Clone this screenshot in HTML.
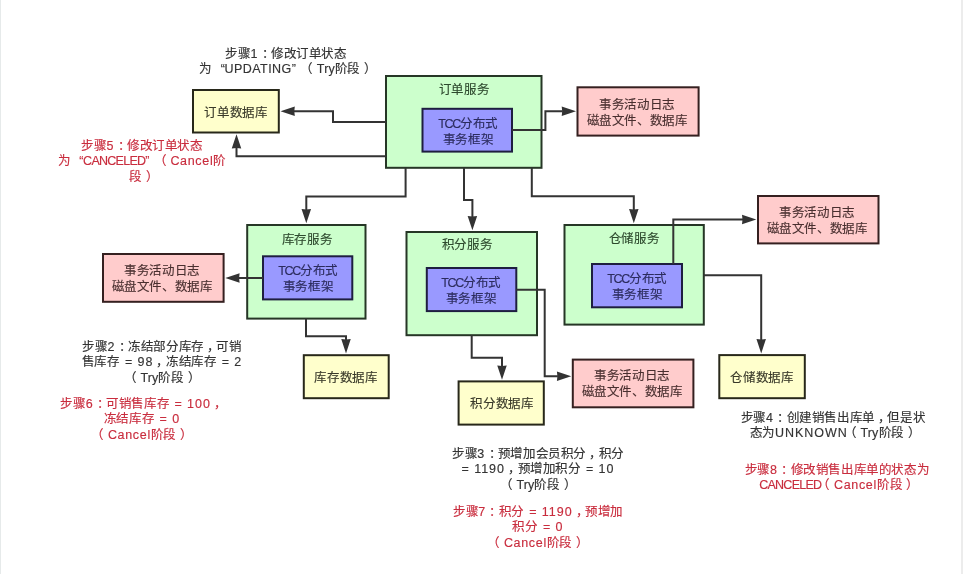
<!DOCTYPE html>
<html lang="zh-CN"><head><meta charset="utf-8">
<style>
html,body{margin:0;padding:0;background:#fff;}
body{width:963px;height:574px;position:relative;overflow:hidden;font-family:"Liberation Sans",sans-serif;}
.edgeL{position:absolute;left:0;top:0;width:1px;height:574px;background:#e6eaea;}
.edgeR{position:absolute;right:0;top:0;width:2px;height:574px;background:#ececec;}
svg{position:absolute;left:0;top:0;}
.t{position:absolute;width:240px;text-align:center;font-size:12.50px;line-height:15.40px;white-space:nowrap;text-spacing-trim:space-all;letter-spacing:-.4px;will-change:transform;-webkit-text-stroke:.15px currentColor}
.a{letter-spacing:0;word-spacing:1.8px}
.pc{position:relative;left:.27em}.pm{position:relative;left:.23em}.po{position:relative;left:-.31em}.pp{position:relative;left:.33em}
.d{letter-spacing:1px}.u{letter-spacing:.3px}
.ql{display:inline-block;width:1em;text-align:right}.qr{display:inline-block;width:1em;text-align:left}
#w{position:absolute;left:0;top:0;width:963px;height:574px;filter:blur(0.40px)}
</style></head><body>
<div id="w">
<div class="edgeL"></div><div class="edgeR"></div>
<svg width="963" height="574" viewBox="0 0 963 574">
<rect x="193.00" y="90.00" width="85.80" height="42.50" fill="#ffffcc" stroke="#28281a" stroke-width="2"/>
<rect x="386.00" y="76.00" width="155.50" height="91.80" fill="#ccffcc" stroke="#263626" stroke-width="2"/>
<rect x="422.50" y="108.80" width="89.50" height="42.80" fill="#9999ff" stroke="#1e1e40" stroke-width="2"/>
<rect x="577.50" y="87.30" width="121.10" height="48.30" fill="#ffcccc" stroke="#352020" stroke-width="2"/>
<rect x="247.20" y="225.00" width="118.30" height="93.60" fill="#ccffcc" stroke="#263626" stroke-width="2"/>
<rect x="263.00" y="256.30" width="89.30" height="43.10" fill="#9999ff" stroke="#1e1e40" stroke-width="2"/>
<rect x="103.00" y="254.00" width="120.60" height="47.80" fill="#ffcccc" stroke="#352020" stroke-width="2"/>
<rect x="406.50" y="232.00" width="130.50" height="103.20" fill="#ccffcc" stroke="#263626" stroke-width="2"/>
<rect x="426.80" y="268.00" width="89.50" height="43.10" fill="#9999ff" stroke="#1e1e40" stroke-width="2"/>
<rect x="564.50" y="225.00" width="139.30" height="99.60" fill="#ccffcc" stroke="#263626" stroke-width="2"/>
<rect x="592.00" y="264.00" width="90.00" height="43.30" fill="#9999ff" stroke="#1e1e40" stroke-width="2"/>
<rect x="758.00" y="196.00" width="120.50" height="47.40" fill="#ffcccc" stroke="#352020" stroke-width="2"/>
<rect x="303.80" y="355.20" width="84.90" height="43.00" fill="#ffffcc" stroke="#28281a" stroke-width="2"/>
<rect x="458.60" y="381.40" width="85.20" height="43.20" fill="#ffffcc" stroke="#28281a" stroke-width="2"/>
<rect x="572.80" y="359.60" width="120.60" height="47.70" fill="#ffcccc" stroke="#352020" stroke-width="2"/>
<rect x="719.30" y="355.10" width="85.50" height="43.10" fill="#ffffcc" stroke="#28281a" stroke-width="2"/>
<polyline points="385.00,122.00 333.00,122.00 333.00,111.30 294.80,111.30" fill="none" stroke="#333333" stroke-width="2" stroke-linejoin="miter" stroke-linecap="square"/>
<polygon points="280.50,111.30 294.80,106.55 294.30,111.30 294.80,116.05" fill="#333333"/>
<polyline points="385.00,156.30 236.50,156.30 236.50,148.60" fill="none" stroke="#333333" stroke-width="2" stroke-linejoin="miter" stroke-linecap="square"/>
<polygon points="236.50,134.30 241.25,148.60 236.50,148.10 231.75,148.60" fill="#333333"/>
<polyline points="513.00,130.00 545.40,130.00 545.40,111.20 561.70,111.20" fill="none" stroke="#333333" stroke-width="2" stroke-linejoin="miter" stroke-linecap="square"/>
<polygon points="576.00,111.20 561.70,115.95 562.20,111.20 561.70,106.45" fill="#333333"/>
<polyline points="405.60,168.80 405.60,196.50 306.30,196.50 306.30,208.90" fill="none" stroke="#333333" stroke-width="2" stroke-linejoin="miter" stroke-linecap="square"/>
<polygon points="306.30,223.20 301.55,208.90 306.30,209.40 311.05,208.90" fill="#333333"/>
<polyline points="464.00,168.80 464.00,200.00 472.40,200.00 472.40,216.00" fill="none" stroke="#333333" stroke-width="2" stroke-linejoin="miter" stroke-linecap="square"/>
<polygon points="472.40,230.30 467.65,216.00 472.40,216.50 477.15,216.00" fill="#333333"/>
<polyline points="531.80,168.80 531.80,196.30 633.80,196.30 633.80,209.00" fill="none" stroke="#333333" stroke-width="2" stroke-linejoin="miter" stroke-linecap="square"/>
<polygon points="633.80,223.30 629.05,209.00 633.80,209.50 638.55,209.00" fill="#333333"/>
<polyline points="262.00,278.00 239.60,278.00" fill="none" stroke="#333333" stroke-width="2" stroke-linejoin="miter" stroke-linecap="square"/>
<polygon points="225.30,278.00 239.60,273.25 239.10,278.00 239.60,282.75" fill="#333333"/>
<polyline points="306.00,319.60 306.00,336.20 346.00,336.20 346.00,339.10" fill="none" stroke="#333333" stroke-width="2" stroke-linejoin="miter" stroke-linecap="square"/>
<polygon points="346.00,353.40 341.25,339.10 346.00,339.60 350.75,339.10" fill="#333333"/>
<polyline points="517.30,289.80 544.70,289.80 544.70,376.30 556.90,376.30" fill="none" stroke="#333333" stroke-width="2" stroke-linejoin="miter" stroke-linecap="square"/>
<polygon points="571.20,376.30 556.90,381.05 557.40,376.30 556.90,371.55" fill="#333333"/>
<polyline points="471.70,336.00 471.70,357.70 502.00,357.70 502.00,365.40" fill="none" stroke="#333333" stroke-width="2" stroke-linejoin="miter" stroke-linecap="square"/>
<polygon points="502.00,379.70 497.25,365.40 502.00,365.90 506.75,365.40" fill="#333333"/>
<polyline points="673.30,263.00 673.30,219.50 742.00,219.50" fill="none" stroke="#333333" stroke-width="2" stroke-linejoin="miter" stroke-linecap="square"/>
<polygon points="756.30,219.50 742.00,224.25 742.50,219.50 742.00,214.75" fill="#333333"/>
<polyline points="704.50,275.20 761.20,275.20 761.20,339.10" fill="none" stroke="#333333" stroke-width="2" stroke-linejoin="miter" stroke-linecap="square"/>
<polygon points="761.20,353.40 756.45,339.10 761.20,339.60 765.95,339.10" fill="#333333"/>
</svg>
<div class="t" style="left:166.0px;top:46.80px;color:#333333;line-height:15.4px">步骤<span class="a"><span class="d">1</span></span><span class="pc">：</span>修改订单状态<br>为<span class="ql">“</span><span class="a"><span style="letter-spacing:0.46px">UPDATING</span></span><span class="qr">”</span><span class="po">（</span><span class="a"><span style="letter-spacing:0.15px">Try</span></span>阶段<span class="pp">）</span></div>
<div class="t" style="left:21.5px;top:139.40px;color:#c92d3e;line-height:15.4px">步骤<span class="a"><span class="d">5</span></span><span class="pc">：</span>修改订单状态<br>为<span class="ql">“</span><span class="a"><span style="letter-spacing:-0.74px">CANCELED</span></span><span class="qr">”</span><span class="po">（</span><span class="a"><span style="letter-spacing:0.68px">Cancel</span></span>阶<br>段<span class="pp">）</span></div>
<div class="t" style="left:42.0px;top:339.80px;color:#333333;line-height:15.4px">步骤<span class="a"><span class="d">2</span></span><span class="pc">：</span>冻结部分库存<span class="pm">，</span>可销<br>售库存<span class="a"> = <span class="d">98</span></span><span class="pm">，</span>冻结库存<span class="a"> = <span class="d">2</span></span><br><span class="po">（</span><span class="a"><span style="letter-spacing:0.15px">Try</span></span>阶段<span class="pp">）</span></div>
<div class="t" style="left:22.0px;top:397.30px;color:#c92d3e;line-height:15.4px">步骤<span class="a"><span class="d">6</span></span><span class="pc">：</span>可销售库存<span class="a"> = <span class="d">100</span></span><span class="pm">，</span><br>冻结库存<span class="a"> = <span class="d">0</span></span><br><span class="po">（</span><span class="a"><span style="letter-spacing:0.68px">Cancel</span></span>阶段<span class="pp">）</span></div>
<div class="t" style="left:417.5px;top:446.50px;color:#333333;line-height:15.4px">步骤<span class="a"><span class="d">3</span></span><span class="pc">：</span>预增加会员积分<span class="pm">，</span>积分<br><span class="a">= <span class="d">1190</span></span><span class="pm">，</span>预增加积分<span class="a"> = <span class="d">10</span></span><br><span class="po">（</span><span class="a"><span style="letter-spacing:0.15px">Try</span></span>阶段<span class="pp">）</span></div>
<div class="t" style="left:417.5px;top:504.80px;color:#c92d3e;line-height:15.4px">步骤<span class="a"><span class="d">7</span></span><span class="pc">：</span>积分<span class="a"> = <span class="d">1190</span></span><span class="pm">，</span>预增加<br>积分<span class="a"> = <span class="d">0</span></span><br><span class="po">（</span><span class="a"><span style="letter-spacing:0.68px">Cancel</span></span>阶段<span class="pp">）</span></div>
<div class="t" style="left:713.0px;top:410.80px;color:#333333;line-height:15.4px">步骤<span class="a"><span class="d">4</span></span><span class="pc">：</span>创建销售出库单<span class="pm">，</span>但是状<br>态为<span class="a"><span style="letter-spacing:1.00px">UNKNOWN</span></span><span class="po">（</span><span class="a"><span style="letter-spacing:0.15px">Try</span></span>阶段<span class="pp">）</span></div>
<div class="t" style="left:716.5px;top:463.30px;color:#c92d3e;line-height:15.4px">步骤<span class="a"><span class="d">8</span></span><span class="pc">：</span>修改销售出库单的状态为<br><span class="a"><span style="letter-spacing:-0.74px">CANCELED</span></span><span class="po">（</span><span class="a"><span style="letter-spacing:0.68px">Cancel</span></span>阶段<span class="pp">）</span></div>
<div class="t" style="left:115.5px;top:105.60px;color:#3a3a2a;line-height:15.4px">订单数据库</div>
<div class="t" style="left:344.0px;top:83.00px;color:#2e4a2e;line-height:15.4px">订单服务</div>
<div class="t" style="left:347.5px;top:115.60px;color:#2c2c5e;line-height:16.0px"><span class="a"><span style="letter-spacing:-1.30px">TCC</span></span>分布式<br>事务框架</div>
<div class="t" style="left:516.8px;top:96.90px;color:#4a3030;line-height:16.0px">事务活动日志<br>磁盘文件、数据库</div>
<div class="t" style="left:186.5px;top:232.80px;color:#2e4a2e;line-height:15.4px">库存服务</div>
<div class="t" style="left:187.5px;top:263.10px;color:#2c2c5e;line-height:16.0px"><span class="a"><span style="letter-spacing:-1.30px">TCC</span></span>分布式<br>事务框架</div>
<div class="t" style="left:42.0px;top:262.80px;color:#4a3030;line-height:16.0px">事务活动日志<br>磁盘文件、数据库</div>
<div class="t" style="left:346.7px;top:238.30px;color:#2e4a2e;line-height:15.4px">积分服务</div>
<div class="t" style="left:350.8px;top:274.80px;color:#2c2c5e;line-height:16.0px"><span class="a"><span style="letter-spacing:-1.30px">TCC</span></span>分布式<br>事务框架</div>
<div class="t" style="left:514.0px;top:232.30px;color:#2e4a2e;line-height:15.4px">仓储服务</div>
<div class="t" style="left:517.0px;top:271.10px;color:#2c2c5e;line-height:16.0px"><span class="a"><span style="letter-spacing:-1.30px">TCC</span></span>分布式<br>事务框架</div>
<div class="t" style="left:697.3px;top:204.90px;color:#4a3030;line-height:16.0px">事务活动日志<br>磁盘文件、数据库</div>
<div class="t" style="left:226.0px;top:370.80px;color:#3a3a2a;line-height:15.4px">库存数据库</div>
<div class="t" style="left:381.5px;top:396.80px;color:#3a3a2a;line-height:15.4px">积分数据库</div>
<div class="t" style="left:511.5px;top:367.90px;color:#4a3030;line-height:16.0px">事务活动日志<br>磁盘文件、数据库</div>
<div class="t" style="left:642.0px;top:370.80px;color:#3a3a2a;line-height:15.4px">仓储数据库</div>
</div>
</body></html>
